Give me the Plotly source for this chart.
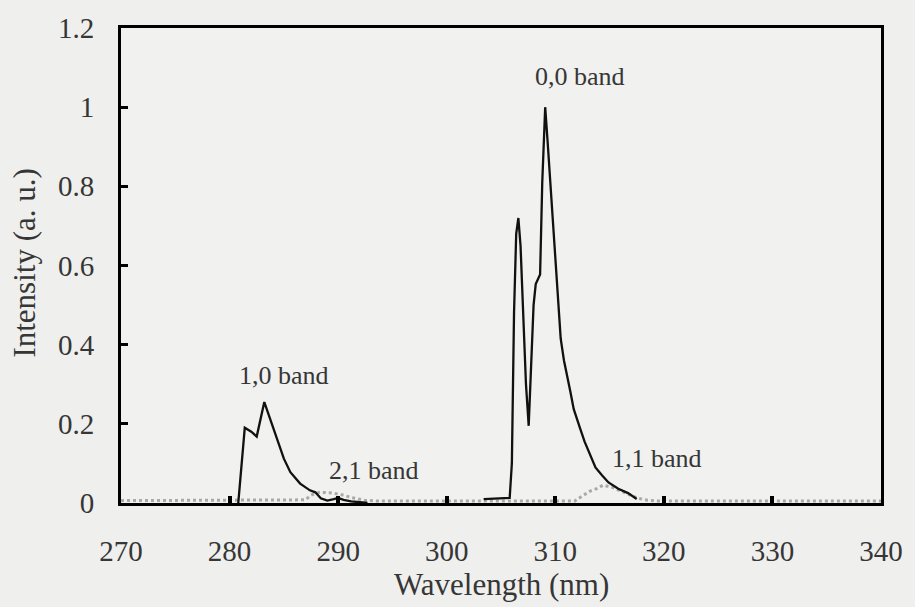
import plotly.graph_objects as go

# Main (solid black) spectrum
wl_main = [280.8, 281.1, 281.4, 282.0, 282.5, 283.2, 284.0, 285.0, 285.6, 286.5, 287.4, 287.9,
           288.4, 289.0, 289.6, 290.0, 290.5, 291.2, 292.0, 292.7, None,
           303.4, 305.8, 306.0, 306.2, 306.4, 306.6, 306.8, 307.0, 307.3, 307.55, 307.8, 308.0,
           308.2, 308.6, 308.8, 309.07, 309.3, 309.6, 309.9, 310.2, 310.5, 310.8, 311.1, 311.4,
           311.7, 312.0, 312.3, 312.7, 313.1, 313.7, 314.3, 314.9, 315.8, 316.7, 317.5]
int_main = [0.0, 0.10, 0.19, 0.18, 0.168, 0.255, 0.19, 0.112, 0.078, 0.049, 0.032, 0.027,
            0.012, 0.006, 0.010, 0.013, 0.008, 0.004, 0.002, 0.0, None,
            0.010, 0.013, 0.10, 0.48, 0.68, 0.72, 0.65, 0.52, 0.30, 0.195, 0.39, 0.50,
            0.553, 0.577, 0.81, 1.0, 0.91, 0.78, 0.665, 0.534, 0.415, 0.36, 0.315, 0.28,
            0.237, 0.21, 0.187, 0.155, 0.13, 0.09, 0.07, 0.052, 0.036, 0.025, 0.010]

# Secondary (dotted grey) spectrum
wl_grey = [270, 287.0, 287.5, 288.3, 289.2, 290.2, 291.2, 292.4, 293.5, 311.8, 312.5, 313.2,
           313.8, 314.4, 315.2, 316.0, 316.8, 317.6, 318.5, 319.3, 340]
int_grey = [0.006, 0.008, 0.020, 0.027, 0.026, 0.022, 0.014, 0.007, 0.005, 0.005, 0.018, 0.030,
            0.036, 0.045, 0.040, 0.030, 0.020, 0.012, 0.007, 0.005, 0.005]

# Band labels
band_text = ["1,0 band", "2,1 band", "0,0 band", "1,1 band"]
band_x = [285.0, 293.3, 312.3, 319.4]
band_y = [0.323, 0.083, 1.078, 0.113]

x_ticks = [270, 280, 290, 300, 310, 320, 330, 340]
y_ticks = [0, 0.2, 0.4, 0.6, 0.8, 1.0, 1.2]
y_ticktext = ["0", "0.2", "0.4", "0.6", "0.8", "1", "1.2"]

FONT = "Liberation Serif, Times New Roman, serif"
TXT = "#363636"

fig = go.Figure()
fig.add_trace(go.Scatter(x=wl_grey, y=int_grey, mode="lines",
                         line=dict(color="#a9a9a9", width=3, dash="dot"),
                         showlegend=False, hoverinfo="skip"))
fig.add_trace(go.Scatter(x=wl_main, y=int_main, mode="lines",
                         line=dict(color="#111111", width=2.3),
                         connectgaps=False, showlegend=False))

for t, x, y in zip(band_text, band_x, band_y):
    fig.add_annotation(x=x, y=y, xref="x", yref="y", text=t, showarrow=False,
                       font=dict(family=FONT, size=26, color=TXT))

fig.add_annotation(x=0.5, y=-0.172, xref="paper", yref="paper", text="Wavelength (nm)",
                   xanchor="center", yanchor="middle",
                   showarrow=False, font=dict(family=FONT, size=31, color=TXT))
fig.add_annotation(x=-0.127, y=0.505, xref="paper", yref="paper", text="Intensity (a. u.)",
                   xanchor="center", yanchor="middle",
                   showarrow=False, textangle=-90, font=dict(family=FONT, size=31, color=TXT))

fig.update_layout(
    width=915, height=607,
    margin=dict(l=121, r=28, t=25, b=104),
    paper_bgcolor="#efefed", plot_bgcolor="#f1f1ef",
    font=dict(family=FONT, size=29, color=TXT),
)
fig.update_xaxes(range=[270, 340], tickvals=x_ticks, ticktext=[str(v) for v in x_ticks],
                 showgrid=False, zeroline=False, showline=True, linecolor="#000", linewidth=3,
                 mirror=True, ticks="inside", ticklen=7, tickwidth=4, tickcolor="#000",
                 ticklabelstandoff=20)
fig.update_yaxes(range=[0, 1.2], tickvals=y_ticks, ticktext=y_ticktext,
                 showgrid=False, zeroline=False, showline=True, linecolor="#000", linewidth=3,
                 mirror=True, ticks="inside", ticklen=7, tickwidth=3, tickcolor="#000",
                 ticklabelstandoff=18)

fig.write_html("out.html")
